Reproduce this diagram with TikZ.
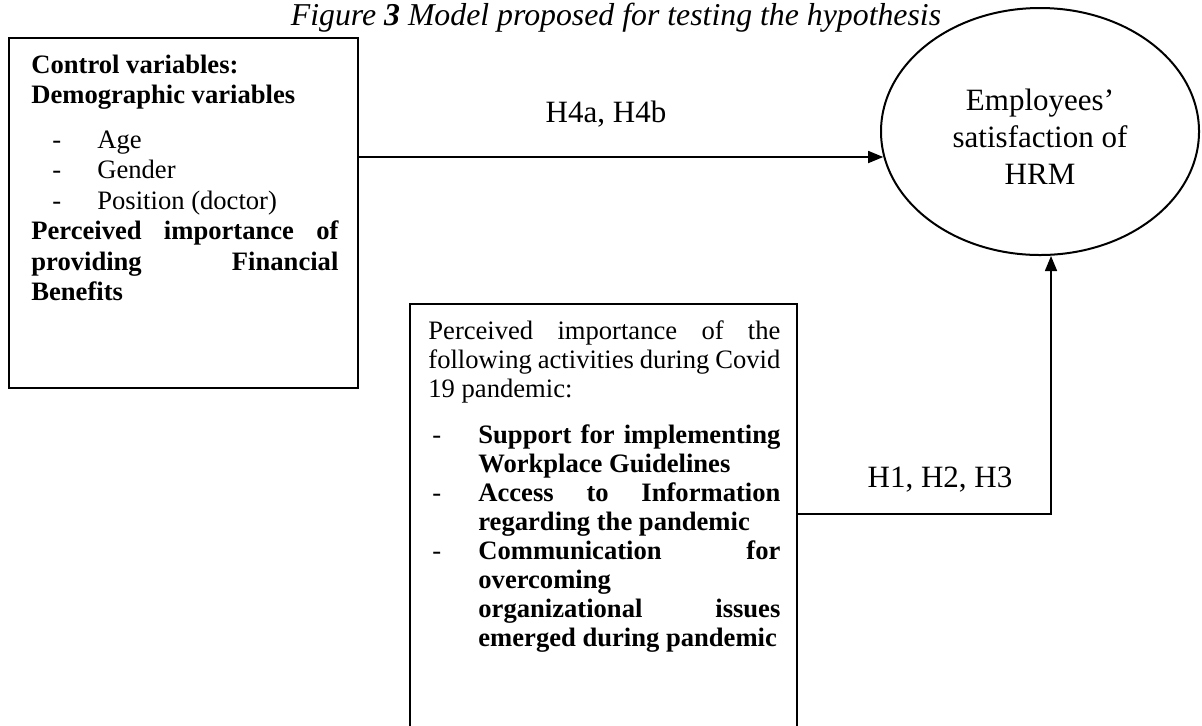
\documentclass[tikz,border=0pt]{standalone}
\usepackage{fontspec}
\setmainfont{Liberation Serif}
\usepackage{tikz}
\usetikzlibrary{arrows.meta,shapes.geometric}

\begin{document}
\begin{tikzpicture}[x=0.5pt,y=-0.5pt,
  box/.style={draw,line width=1pt,inner sep=0pt},
  body/.style={inner sep=0pt,anchor=base west,align=justify,font=\fontsize{13.3pt}{15.2pt}\selectfont},
  hyp/.style={inner sep=0pt,anchor=base,font=\fontsize{15.5pt}{18pt}\selectfont},
  link/.style={line width=0.8pt,-{Triangle[length=7.5pt,width=6pt]}}]
  \useasboundingbox (0,0) rectangle (1202,725);
  % title
  \node[inner sep=0pt,anchor=base,font=\fontsize{15.9pt}{18pt}\selectfont\itshape] (title) at (616,25)
    {Figure \textbf{3} Model proposed for testing the hypothesis};
  % control variables
  \node[box,minimum width=174.5pt,minimum height=175pt] (ctrl) at (183.5,213) {};
  \node[body,text width=153.5pt] (ctrltxt) at (31,73) {\textbf{Control variables:}\\
    \textbf{Demographic variables}\par\vspace{7.3pt}
    \hspace*{10.5pt}\makebox[22.5pt][l]{-}Age\\
    \hspace*{10.5pt}\makebox[22.5pt][l]{-}Gender\\
    \hspace*{10.5pt}\makebox[22.5pt][l]{-}Position (doctor)\\
    \textbf{Perceived importance of\linebreak providing Financial\linebreak Benefits}};
  % activities during the pandemic
  \node[box,minimum width=193.5pt,minimum height=228pt] (covid) at (603.5,532) {};
  \node[body,text width=176pt,font=\fontsize{13.3pt}{14.5pt}\selectfont] (covidtxt) at (428,339)
    {Perceived importance of the\linebreak following activities during Covid\linebreak 19 pandemic:\par\vspace{8.5pt}
    \hangindent=25pt\hangafter=1\hspace*{2pt}\makebox[23pt][l]{-}\textbf{Support for implementing\linebreak Workplace Guidelines}\par
    \hangindent=25pt\hangafter=1\hspace*{2pt}\makebox[23pt][l]{-}\textbf{Access to Information\linebreak regarding the pandemic}\par
    \hangindent=25pt\hangafter=1\hspace*{2pt}\makebox[23pt][l]{-}\textbf{Communication for\linebreak overcoming\linebreak organizational issues\linebreak emerged during pandemic}\par};
  % outcome
  \node[draw,ellipse,line width=1pt,minimum width=159pt,minimum height=123.5pt,inner sep=0pt,
    align=center,font=\fontsize{15.5pt}{18.5pt}\selectfont] (emp) at (1040,131.5)
    {\rule{0pt}{16pt}Employees’\\satisfaction of\\HRM};
  % hypotheses
  \node[hyp] (h4lbl) at (606,122) {H4a, H4b};
  \node[hyp] (h13lbl) at (940,487) {H1, H2, H3};
  \coordinate (h4s) at ([yshift=-60pt]ctrl.north east);
  \draw[link] (h4s) -- (h4s -| emp.189.7);
  \draw[link] ([yshift=-105.5pt]covid.north east) -| ([xshift=5.5pt]emp.south);
\end{tikzpicture}
\end{document}
